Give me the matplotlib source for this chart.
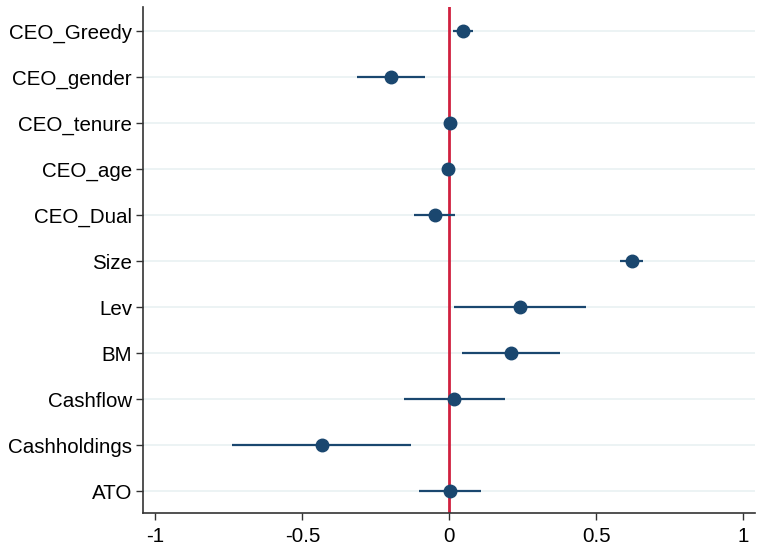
import matplotlib
matplotlib.use("Agg")
import matplotlib.pyplot as plt

variables = ["CEO_Greedy", "CEO_gender", "CEO_tenure", "CEO_age", "CEO_Dual",
             "Size", "Lev", "BM", "Cashflow", "Cashholdings", "ATO"]
coef = [0.048, -0.198, 0.002, -0.003, -0.050, 0.620, 0.240, 0.209, 0.017, -0.434, 0.002]
ci_low = [0.013, -0.314, -0.004, -0.009, -0.120, 0.580, 0.017, 0.042, -0.154, -0.738, -0.102]
ci_high = [0.081, -0.082, 0.008, 0.003, 0.020, 0.660, 0.464, 0.376, 0.190, -0.131, 0.108]
xticks = [-1, -0.5, 0, 0.5, 1]
xticklabels = ["-1", "-0.5", "0", "0.5", "1"]

plt.rcParams['font.family'] = ['Liberation Sans', 'DejaVu Sans']

fig = plt.figure(figsize=(7.65, 5.52), dpi=100)
ax = fig.add_axes([0.187, 0.0707, 0.800, 0.9163])

navy = "#1a476f"
ypos = list(range(len(variables)))

for y in ypos:
    ax.axhline(y, color="#eaf2f3", lw=1.3, zorder=0)

ax.axvline(0, color="#d0203f", lw=2.0, zorder=1)
ax.hlines(ypos, ci_low, ci_high, color=navy, lw=1.6, zorder=2)
ax.plot(coef, ypos, 'o', color=navy, markersize=9, zorder=3)

ax.set_xlim(-1.042, 1.04)
ax.set_ylim(len(variables) - 1 + 0.47, -0.52)
ax.set_yticks(ypos)
ax.set_yticklabels(variables)
ax.set_xticks(xticks)
ax.set_xticklabels(xticklabels)

for s in ["top", "right"]:
    ax.spines[s].set_visible(False)
for s in ["left", "bottom"]:
    ax.spines[s].set_color("#333333")
    ax.spines[s].set_linewidth(1.2)

ax.tick_params(axis="both", direction="out", length=5, width=1.0, color="#333333",
               labelsize=14.8, labelcolor="black")
ax.tick_params(axis="x", pad=5)
ax.tick_params(axis="y", pad=3)

fig.savefig("out.png", dpi=100)
